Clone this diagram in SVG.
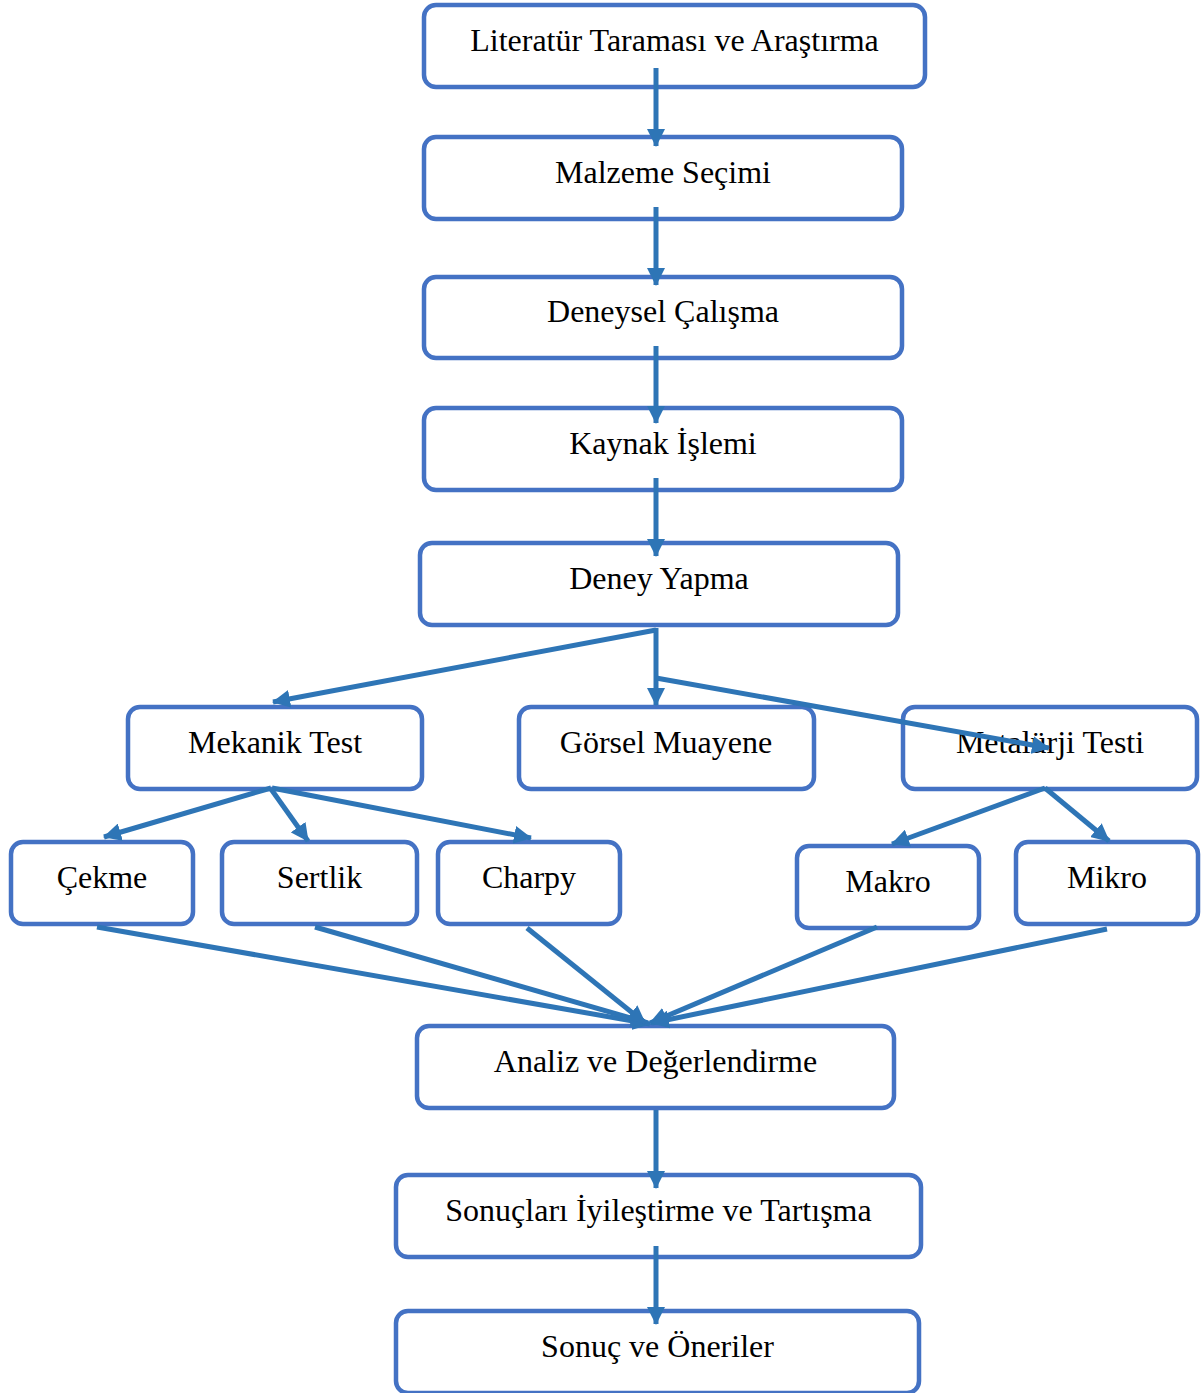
<svg xmlns="http://www.w3.org/2000/svg" width="1202" height="1393" viewBox="0 0 1202 1393">
<defs>
<style>
.box{fill:#fff;stroke:#4472C4;stroke-width:4.5}
.t{font-family:"Liberation Serif","Times New Roman",serif;font-size:32px;fill:#000;text-anchor:middle}
.c{stroke:#2E75B6;stroke-width:5;fill:none;marker-end:url(#ah)}
</style>
<marker id="ah" markerUnits="userSpaceOnUse" markerWidth="18" markerHeight="18" viewBox="0 0 18 18" refX="17" refY="9" orient="auto">
<path d="M0,0 L18,9 L0,18 Z" fill="#2E75B6"/>
</marker>
</defs>
<rect width="1202" height="1393" fill="#fff"/>
<g id="n1"><rect class="box" x="424" y="5" width="501" height="82" rx="12"/><text class="t" x="674.5" y="51">Literatür Taraması ve Araştırma</text></g>
<g id="n2"><rect class="box" x="424" y="137" width="478" height="82" rx="12"/><text class="t" x="663" y="183">Malzeme Seçimi</text></g>
<g id="n3"><rect class="box" x="424" y="277" width="478" height="81" rx="12"/><text class="t" x="663" y="322">Deneysel Çalışma</text></g>
<g id="n4"><rect class="box" x="424" y="408" width="478" height="82" rx="12"/><text class="t" x="663" y="454">Kaynak İşlemi</text></g>
<g id="n5"><rect class="box" x="420" y="543" width="478" height="82" rx="12"/><text class="t" x="659" y="589">Deney Yapma</text></g>
<g id="n6"><rect class="box" x="128" y="707" width="294" height="82" rx="12"/><text class="t" x="275" y="753">Mekanik Test</text></g>
<g id="n7"><rect class="box" x="519" y="707" width="295" height="82" rx="12"/><text class="t" x="666" y="753">Görsel Muayene</text></g>
<g id="n8"><rect class="box" x="903" y="707" width="294" height="82" rx="12"/><text class="t" x="1050" y="753">Metalürji Testi</text></g>
<g id="n9"><rect class="box" x="11" y="842" width="182" height="82" rx="12"/><text class="t" x="102" y="888">Çekme</text></g>
<g id="n10"><rect class="box" x="222" y="842" width="195" height="82" rx="12"/><text class="t" x="319.5" y="888">Sertlik</text></g>
<g id="n11"><rect class="box" x="438" y="842" width="182" height="82" rx="12"/><text class="t" x="529" y="888">Charpy</text></g>
<g id="n12"><rect class="box" x="797" y="846" width="182" height="82" rx="12"/><text class="t" x="888" y="892">Makro</text></g>
<g id="n13"><rect class="box" x="1016" y="842" width="182" height="82" rx="12"/><text class="t" x="1107" y="888">Mikro</text></g>
<g id="n14"><rect class="box" x="417" y="1026" width="477" height="82" rx="12"/><text class="t" x="655.5" y="1072">Analiz ve Değerlendirme</text></g>
<g id="n15"><rect class="box" x="396" y="1175" width="525" height="82" rx="12"/><text class="t" x="658.5" y="1221">Sonuçları İyileştirme ve Tartışma</text></g>
<g id="n16"><rect class="box" x="396" y="1311" width="523" height="82" rx="12"/><text class="t" x="657.5" y="1357">Sonuç ve Öneriler</text></g>
<g id="connectors">
<line class="c" x1="656" y1="68" x2="656" y2="146"/>
<line class="c" x1="656" y1="207" x2="656" y2="285"/>
<line class="c" x1="656" y1="346" x2="656" y2="423"/>
<line class="c" x1="656" y1="478" x2="656" y2="556"/>
<line class="c" x1="656" y1="630" x2="273" y2="702"/>
<line class="c" x1="656" y1="628" x2="656" y2="705"/>
<line class="c" x1="656" y1="678" x2="1049" y2="748"/>
<line class="c" x1="271" y1="788" x2="104" y2="837"/>
<line class="c" x1="271" y1="789" x2="308" y2="841"/>
<line class="c" x1="272" y1="788" x2="531" y2="838"/>
<line class="c" x1="1045" y1="788" x2="892" y2="844"/>
<line class="c" x1="1045" y1="788" x2="1109" y2="841"/>
<line class="c" x1="97" y1="927" x2="650" y2="1024"/>
<line class="c" x1="315" y1="927" x2="648" y2="1023"/>
<line class="c" x1="527" y1="928" x2="645" y2="1023"/>
<line class="c" x1="877" y1="927" x2="650" y2="1023"/>
<line class="c" x1="1107" y1="929" x2="652" y2="1023"/>
<line class="c" x1="656" y1="1110" x2="656" y2="1188"/>
<line class="c" x1="656" y1="1246" x2="656" y2="1324"/>
</g>
</svg>
